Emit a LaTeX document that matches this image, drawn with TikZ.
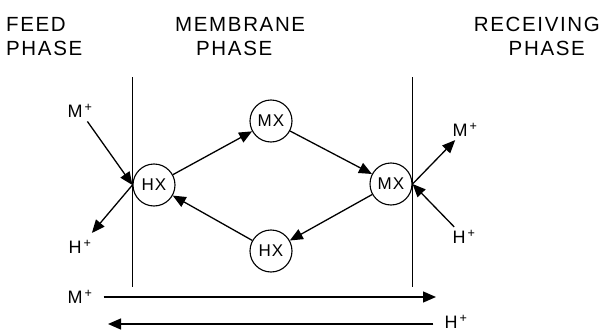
\documentclass[tikz,border=0pt]{standalone}
\usepackage{fontspec}
\setmainfont{Liberation Sans}
\usetikzlibrary{arrows.meta}

\begin{document}
\begin{tikzpicture}[x=1pt, y=-1pt,
    phase/.style={font=\fontsize{20.5}{24}\selectfont\addfontfeatures{LetterSpace=8}, inner sep=0pt},
    carrier/.style={draw, circle, line width=1.1pt, minimum size=42pt, inner sep=0pt, font=\fontsize{17}{17}\selectfont\addfontfeatures{LetterSpace=6}},
    ion/.style={font=\fontsize{18}{18}\selectfont, inner sep=1pt},
    flow/.style={-{Triangle[length=13pt,width=11pt]}, line width=1.3pt},
    wall/.style={line width=1pt}
]
\useasboundingbox (0,0) rectangle (603,332);

% phase titles
\node[phase, anchor=base west] (feedA) at (6,31) {FEED};
\node[phase, anchor=base west] (feedB) at (6,55) {PHASE};
\node[phase, anchor=base west] (membA) at (175,31) {MEMBRANE};
\node[phase, anchor=base west] (membB) at (196,55) {PHASE};
\node[phase, anchor=base east] (recvA) at (600,31) {RECEIVING};
\node[phase, anchor=base east] (recvB) at (585,55) {PHASE};

% membrane walls
\coordinate (wlt) at (132,77);
\coordinate (wlb) at (132,287);
\coordinate (wrt) at (412,77);
\coordinate (wrb) at (412,287);
\draw[wall] (wlt) -- (wlb);
\draw[wall] (wrt) -- (wrb);

% carriers
\node[carrier] (hxf) at (154,185) {HX};
\node[carrier] (mxt) at (271,121) {MX};
\node[carrier] (mxr) at (391,184) {MX};
\node[carrier] (hxb) at (271,251) {HX};

\draw[flow] (hxf) -- (mxt);
\draw[flow] (mxt) -- (mxr);
\draw[flow] (mxr) -- (hxb);
\draw[flow] (hxb) -- (hxf);

% ions at the interfaces
\node[ion] (mf) at (80,111) {M\kern2pt\textsuperscript{+}};
\node[ion] (hf) at (80,247) {H\kern2pt\textsuperscript{+}};
\node[ion] (mr) at (465,130) {M\kern2pt\textsuperscript{+}};
\node[ion] (hr) at (464,237) {H\kern2pt\textsuperscript{+}};

\draw[flow, shorten <=3pt] (mf) -- (hxf.west);
\draw[flow, shorten >=8pt] (hxf.west) -- (hf);
\draw[flow, shorten >=3pt] (mxr.east) -- (mr);
\draw[flow, shorten <=3pt] (hr) -- (mxr.east);

% net transport
\node[ion] (mb) at (80,297) {M\kern2pt\textsuperscript{+}};
\node[ion] (hb) at (456,322) {H\kern2pt\textsuperscript{+}};
\coordinate (mbend) at (436,297);
\coordinate (hbend) at (108,324);

\draw[flow, shorten <=10pt] (mb.east) -- (mbend);
\draw[flow, shorten <=10pt] (hb.west |- hbend) -- (hbend);
\end{tikzpicture}
\end{document}
